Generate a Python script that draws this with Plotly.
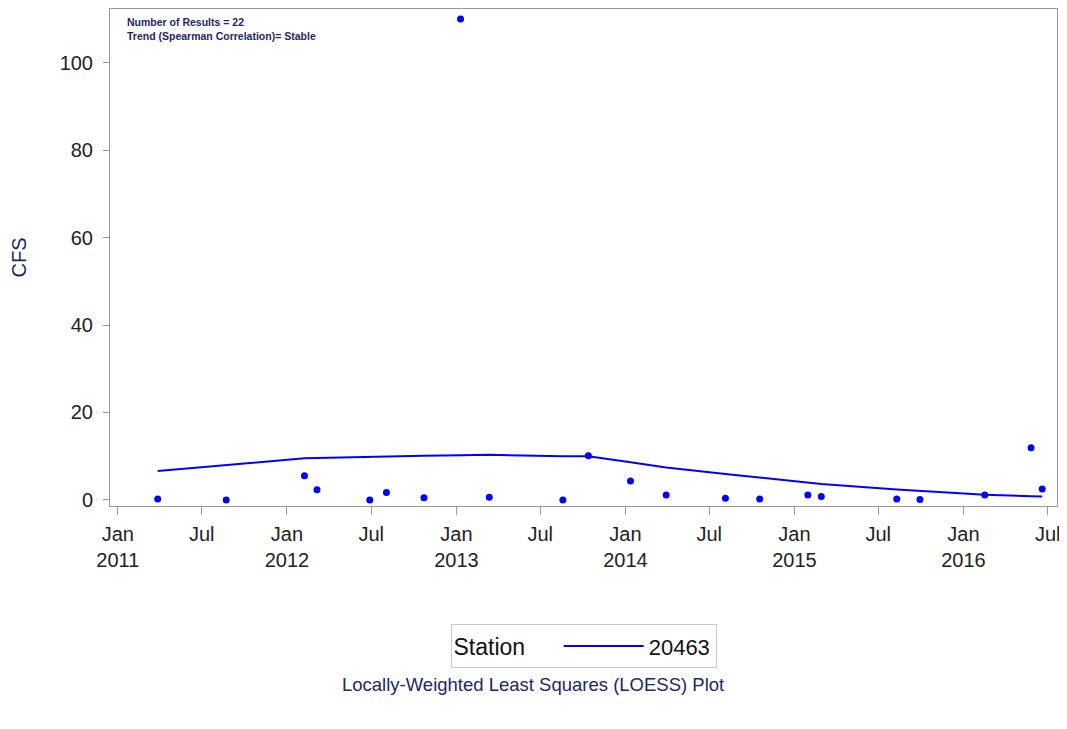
import plotly.graph_objects as go

# observations
obs_dates = ["2011-03-28", "2011-08-23", "2012-02-08", "2012-03-06", "2012-06-28", "2012-08-03",
             "2012-10-23", "2013-01-10", "2013-03-13", "2013-08-19", "2013-10-13", "2014-01-12",
             "2014-03-30", "2014-08-05", "2014-10-18", "2015-01-30", "2015-02-28", "2015-08-10",
             "2015-09-29", "2016-02-16", "2016-05-26", "2016-06-19"]
cfs = [0.2, 0.0, 5.5, 2.3, 0.0, 1.7,
       0.5, 110.0, 0.6, 0.0, 10.1, 4.3,
       1.1, 0.4, 0.2, 1.1, 0.8, 0.2,
       0.1, 1.1, 11.9, 2.5]
# loess fit at the same dates
loess = [6.6, 8.0, 9.5, 9.6, 9.9, 10.0,
         10.1, 10.2, 10.3, 10.0, 10.0, 8.6,
         7.4, 5.9, 5.1, 4.0, 3.65, 2.4,
         2.05, 1.2, 0.85, 0.75]

tick_dates = ["2011-01-01", "2011-07-01", "2012-01-01", "2012-07-01", "2013-01-01", "2013-07-01",
              "2014-01-01", "2014-07-01", "2015-01-01", "2015-07-01", "2016-01-01", "2016-07-01"]
tick_text = ["Jan<br>2011", "Jul", "Jan<br>2012", "Jul", "Jan<br>2013", "Jul",
             "Jan<br>2014", "Jul", "Jan<br>2015", "Jul", "Jan<br>2016", "Jul"]

font = "Arial, Liberation Sans, sans-serif"
navy = "#1c2766"
blue = "#0000ff"

fig = go.Figure()
fig.add_trace(go.Scatter(x=obs_dates, y=cfs, mode="markers",
                         marker=dict(color=blue, size=7), showlegend=False))
fig.add_trace(go.Scatter(x=obs_dates, y=loess, mode="lines", name="20463",
                         line=dict(color=blue, width=2)))

# page body has an 8px margin, so the figure is sized/offset to compensate
fig.update_layout(
    width=1059, height=721,
    margin=dict(l=102, r=10, t=1, b=223),
    paper_bgcolor="white", plot_bgcolor="white",
    font=dict(family=font, color="#222222"),
    legend=dict(orientation="h", x=0.5, xanchor="center", y=-0.238, yanchor="top",
                title=dict(text="Station&nbsp;&nbsp;&nbsp;&nbsp;", font=dict(size=23, color="#111111")),
                font=dict(size=22, color="#111111"),
                bordercolor="#c8c8c8", borderwidth=1, itemwidth=80),
    annotations=[
        dict(text="<b>Number of Results = 22<br>Trend (Spearman Correlation)= Stable</b>",
             xref="paper", yref="paper", x=0.016, y=0.99, xanchor="left", yanchor="top",
             showarrow=False, align="left", font=dict(size=10.5, color=navy)),
        dict(text="Locally-Weighted Least Squares (LOESS) Plot",
             xref="paper", yref="paper", x=0.447, y=-0.36, xanchor="center", yanchor="middle",
             showarrow=False, font=dict(size=18.5, color=navy)),
    ],
)

fig.update_xaxes(type="date", range=["2010-12-15", "2016-07-21"],
                 tickvals=tick_dates, ticktext=tick_text, automargin=False,
                 showgrid=False, zeroline=False,
                 showline=True, mirror=True, linecolor="#999999", linewidth=1,
                 ticks="outside", ticklen=8, tickcolor="#999999", ticklabelstandoff=2,
                 tickfont=dict(size=20, color="#222222"))
fig.update_yaxes(range=[-1.4, 112.3], tickvals=[0, 20, 40, 60, 80, 100], automargin=False,
                 showgrid=False, zeroline=False,
                 showline=True, mirror=True, linecolor="#999999", linewidth=1,
                 ticks="outside", ticklen=6, tickcolor="#999999", ticklabelstandoff=6,
                 tickfont=dict(size=20, color="#222222"),
                 title=dict(text="CFS", font=dict(size=20, color=navy), standoff=30))

fig.write_html("out.html")
